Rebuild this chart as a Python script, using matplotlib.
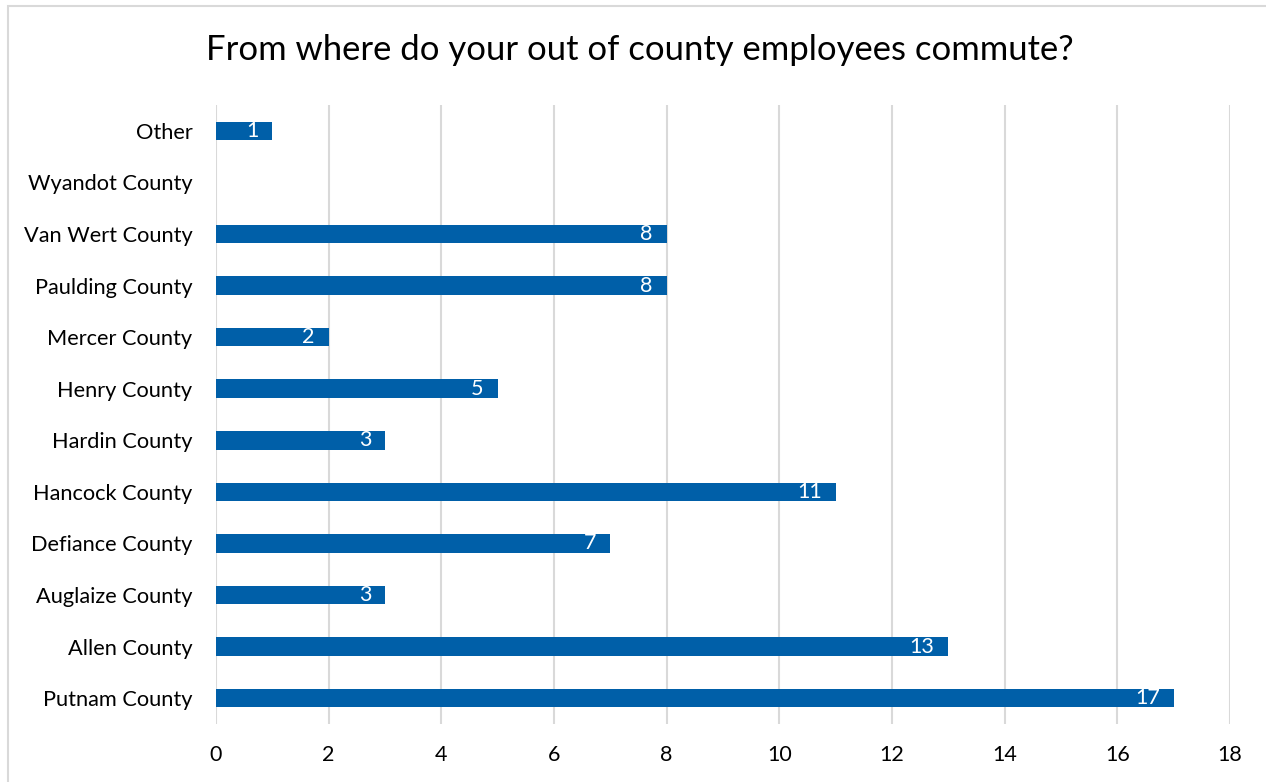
import matplotlib
matplotlib.use("Agg")
import matplotlib.pyplot as plt
from matplotlib.patches import Rectangle

categories = ["Putnam County", "Allen County", "Auglaize County", "Defiance County",
              "Hancock County", "Hardin County", "Henry County", "Mercer County",
              "Paulding County", "Van Wert County", "Wyandot County", "Other"]
values = [17, 13, 3, 7, 11, 3, 5, 2, 8, 8, 0, 1]
xticks = [0, 2, 4, 6, 8, 10, 12, 14, 16, 18]
title = "From where do your out of county employees commute?"

plt.rcParams['font.family'] = ['Lato', 'DejaVu Sans']

W, H = 1266, 782
fig = plt.figure(figsize=(W / 100, H / 100), dpi=100)
fig.patches.append(Rectangle((8 / W, -0.1), 1.2, 1 - 6 / H + 0.1, transform=fig.transFigure,
                             fill=False, edgecolor="#D9D9D9", linewidth=1.5))
ax = fig.add_axes([216 / W, 1 - 724 / H, (1230 - 216) / W, (724 - 105) / H])

ypos = list(range(len(categories)))
ax.barh(ypos, values, height=0.36, color="#005FA8", zorder=3)
for y, v in zip(ypos, values):
    if v > 0:
        ax.annotate(str(v), (v, y), xytext=(-10, 0), textcoords="offset points",
                    ha="right", va="center", color="white", fontsize=15.5, zorder=4)

ax.set_xlim(0, 18)
ax.set_ylim(-0.5, len(categories) - 0.5)
ax.set_xticks(xticks)
ax.set_xticklabels([str(t) for t in xticks], fontsize=15.5)
ax.set_yticks(ypos)
ax.set_yticklabels(categories, fontsize=15.7)
ax.tick_params(axis="both", length=0, colors="black")
ax.tick_params(axis="x", pad=15)
ax.tick_params(axis="y", pad=17)
ax.grid(axis="x", color="#D9D9D9", linewidth=1.5, zorder=0)
for s in ax.spines.values():
    s.set_visible(False)

fig.text(640 / W, 1 - 50 / H, title, ha="center", va="center", fontsize=24.9)

fig.savefig("out.png", dpi=100, facecolor="white")
